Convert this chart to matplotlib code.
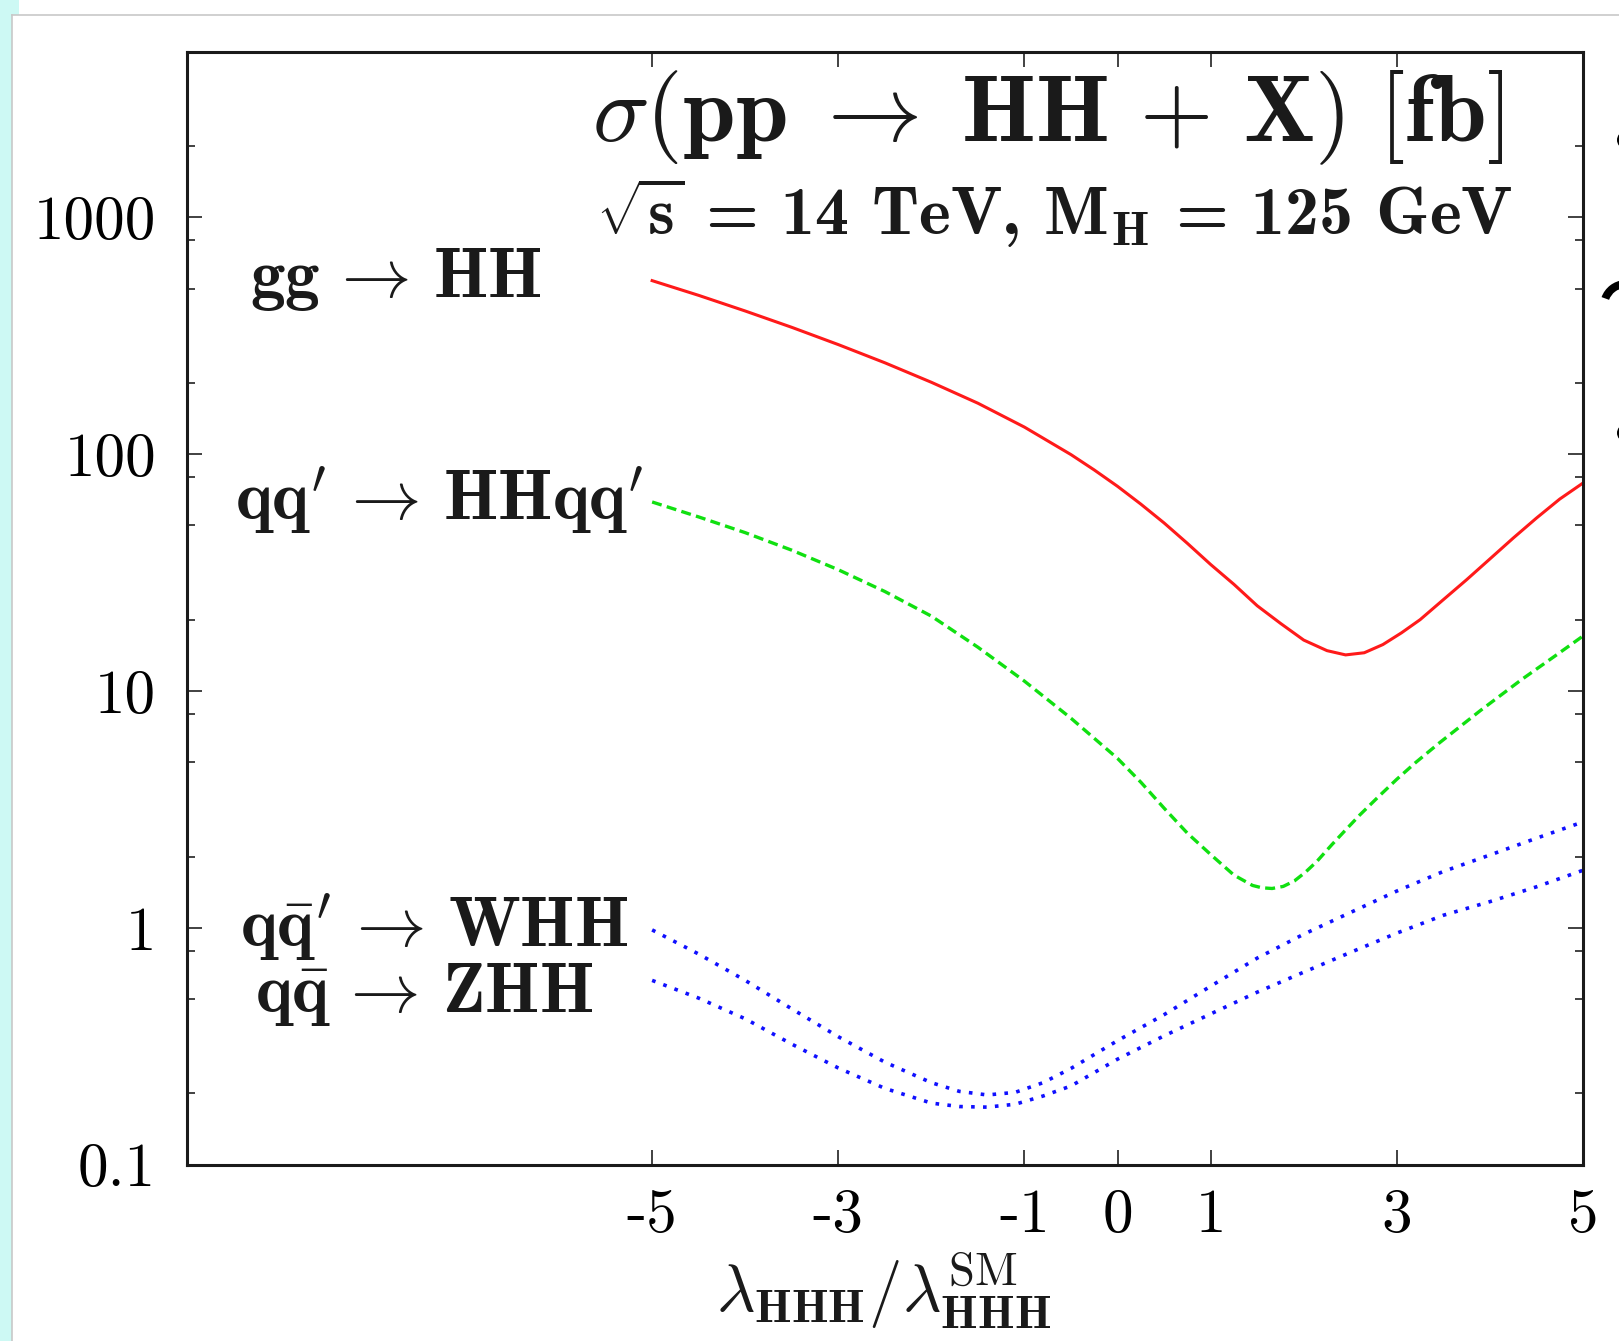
import numpy as np
import matplotlib
matplotlib.use('Agg')
import matplotlib.pyplot as plt
from matplotlib.patches import Rectangle, Ellipse, Wedge
from matplotlib.lines import Line2D
from matplotlib.transforms import IdentityTransform

plt.rcParams['mathtext.fontset'] = 'cm'

# cross sections [fb], vs lambda_HHH / lambda_SM
lam_gg = [-5, -4.5, -4, -3.5, -3, -2.5, -2, -1.5, -1, -0.5, -0.25, 0, 0.25, 0.5, 0.75, 1,
          1.25, 1.5, 1.75, 2, 2.25, 2.45, 2.65, 2.85, 3.05, 3.25, 3.5, 3.75, 4, 4.25,
          4.5, 4.75, 5]
sig_gg = [540, 468, 402, 343, 290, 243, 201, 164, 130, 99.5, 85.7, 73.1, 61.5, 51.2, 42, 34.2,
          28.2, 22.9, 19.3, 16.4, 14.8, 14.2, 14.5, 15.7, 17.6, 20.0, 24.3, 29.5, 36.1, 44.2,
          53.7, 64.6, 75.5]

lam_qq = [-5, -4.5, -4, -3.5, -3, -2.5, -2, -1.5, -1, -0.5, 0, 0.25, 0.5, 0.75,
          1, 1.25, 1.45, 1.55, 1.66, 1.78, 1.9, 2.02, 2.14, 2.3, 2.45, 2.6, 2.8, 3.0,
          3.2, 3.46, 3.9, 4.34, 4.7, 5]
sig_qq = [62.8, 54.3, 46.6, 39.3, 32.5, 26.3, 20.7, 15.3, 11.0, 7.67, 5.19, 4.12, 3.20, 2.51,
          2.04, 1.67, 1.51, 1.476, 1.466, 1.496, 1.578, 1.72, 1.905, 2.24, 2.59, 2.99, 3.57, 4.24,
          4.98, 6.05, 8.28, 11.17, 14.06, 17.06]

lam_vv = [-5, -4.5, -4, -3.5, -3, -2.5, -2, -1.7, -1.4, -1.1, -0.8, -0.5, 0, 0.5,
          1, 1.5, 2, 2.5, 3, 3.5, 4, 4.5, 5]
sig_whh = [0.98, 0.775, 0.60, 0.455, 0.347, 0.271, 0.222, 0.204, 0.197, 0.202, 0.222, 0.255, 0.334, 0.43,
           0.567, 0.745, 0.94, 1.16, 1.43, 1.73, 2.03, 2.39, 2.8]
sig_zhh = [0.60, 0.505, 0.413, 0.323, 0.256, 0.21, 0.182, 0.176, 0.175, 0.18, 0.195, 0.215, 0.279, 0.35,
           0.433, 0.535, 0.65, 0.787, 0.95, 1.13, 1.29, 1.49, 1.75]

W, H = 1619, 1341
fig = plt.figure(figsize=(W / 100, H / 100), dpi=100)
ink = '#1a1a1a'

# slide frame bits
fig.patches.append(Rectangle((0, 0), 12 / W, 1, transform=fig.transFigure,
                             facecolor='#cdf9f4', edgecolor='none', zorder=-5))
fig.patches.append(Rectangle((0, 1 - 14.5 / H), 19 / W, 14.5 / H, transform=fig.transFigure,
                             facecolor='#cdf9f4', edgecolor='none', zorder=-5))
fig.lines.append(Line2D([12 / W, 1], [1 - 14.5 / H, 1 - 14.5 / H], transform=fig.transFigure,
                        color='#c8c8c8', lw=1.2))
fig.lines.append(Line2D([12 / W, 12 / W], [0, 1 - 14.5 / H], transform=fig.transFigure,
                        color='#c8c8c8', lw=1.2))

# cut-off glyphs at the right edge of the slide
pix = IdentityTransform()
fig.patches.append(Ellipse((1624, H - 140), 14, 16, transform=pix, facecolor='black', edgecolor='none'))
fig.patches.append(Ellipse((1624, H - 433), 14, 16, transform=pix, facecolor='black', edgecolor='none'))
fig.patches.append(Wedge((1626, H - 306), 26, 95, 160, width=8, transform=pix,
                         facecolor='black', edgecolor='none'))

ax = fig.add_axes([186.7 / W, 1 - 1164.7 / H, (1583 - 186.7) / W, (1164.7 - 51.7) / H])

ax.plot(lam_gg, sig_gg, color='#ff1a1a', lw=2.2)
ax.plot(lam_qq, sig_qq, color='#10e010', lw=2.4, dashes=(3.0, 1.6))
ax.plot(lam_vv, sig_whh, color='#1010ff', lw=2.6, dashes=(1, 2.3))
ax.plot(lam_vv, sig_zhh, color='#1010ff', lw=2.6, dashes=(1, 2.3))

ax.set_yscale('log')
ax.set_xlim(-10, 5)
ax.set_ylim(0.1, 5000)

ax.set_xticks([-5, -3, -1, 0, 1, 3, 5])
ax.set_xticklabels(['-5', '-3', '-1', '0', '1', '3', '5'], family='cmr10', fontsize=44)
ax.set_yticks([0.1, 1, 10, 100, 1000])
ax.set_yticklabels(['0.1', '1', '10', '100', '1000'], family='cmr10', fontsize=44)
minor = [m * 10.0 ** e for e in range(-1, 4) for m in (2, 5, 8)]
ax.set_yticks([v for v in minor if v < 5000], minor=True)
ax.yaxis.set_minor_formatter(plt.NullFormatter())
ax.tick_params(which='both', direction='in', top=True, right=True, width=1.3, color='#333333')
ax.tick_params(which='major', length=11)
ax.tick_params(axis='y', which='major', pad=22)
ax.tick_params(axis='x', which='major', pad=17)
ax.tick_params(which='minor', length=5.5)
for s in ax.spines.values():
    s.set_linewidth(2.2)
    s.set_color(ink)

# title block
fig.text(1048 / W, 1 - 141.7 / H,
         r'$\sigma(\mathbf{pp} \;\rightarrow\; \mathbf{HH} \,+\, \mathbf{X})\ [\mathbf{fb}]$',
         fontsize=68, ha='center', va='baseline', color=ink)
fig.text(1054 / W, 1 - 235 / H,
         r'$\sqrt{\mathbf{s}}$ = 14 TeV, M$_{\mathbf{H}}$ = 125 GeV',
         family='cmb10', fontsize=49, ha='center', va='baseline', color=ink)

# process labels
lab = dict(fontsize=50, ha='left', va='baseline', color=ink)
fig.text(250 / W, 1 - 297 / H, r'$\mathbf{gg} \,\rightarrow\, \mathbf{HH}$', **lab)
fig.text(235 / W, 1 - 520 / H, r"$\mathbf{qq}' \,\rightarrow\, \mathbf{HHqq}'$", **lab)
fig.text(240 / W, 1 - 947 / H, r"$\mathbf{q}\bar{\mathbf{q}}' \,\rightarrow\, \mathbf{WHH}$", **lab)
fig.text(255 / W, 1 - 1011.7 / H, r'$\mathbf{q}\bar{\mathbf{q}} \,\rightarrow\, \mathbf{ZHH}$', **lab)

fig.text(884 / W, 1 - 1312 / H,
         r'$\lambda_{\mathbf{HHH}}/\lambda_{\mathbf{HHH}}^{\mathrm{SM}}$',
         fontsize=48, ha='center', va='baseline', color=ink)

fig.savefig('out.png', dpi=100)
